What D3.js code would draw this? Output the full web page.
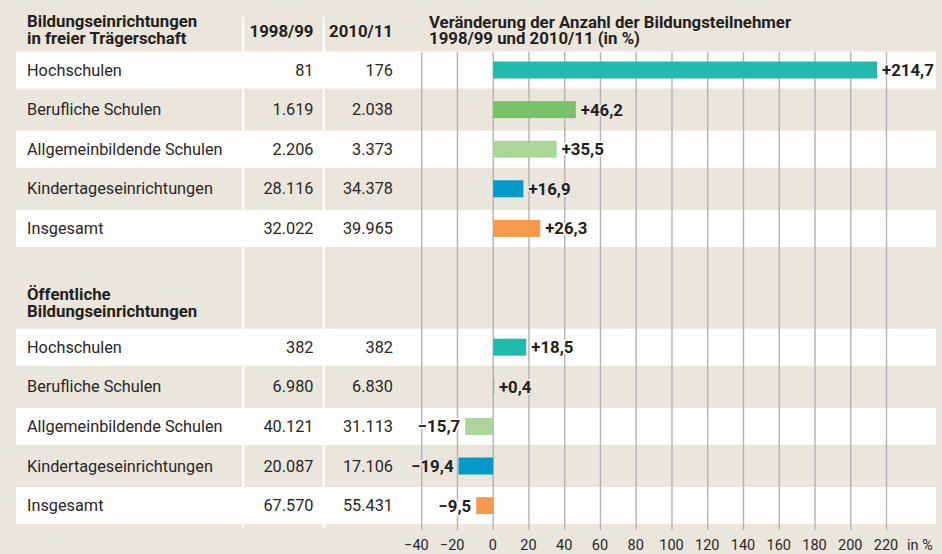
<!DOCTYPE html>
<html>
<head>
<meta charset="utf-8">
<script src="https://cdn.jsdelivr.net/npm/d3@7"></script>
<style>
  body { margin: 0; background: #ebe6dc; }
  svg { display: block; font-family: Roboto, "Noto Sans", sans-serif; }
</style>
</head>
<body>
<script>
// Daten
const categories = ["Hochschulen", "Berufliche Schulen", "Allgemeinbildende Schulen", "Kindertageseinrichtungen", "Insgesamt"];
const groupTitles = [["Bildungseinrichtungen", "in freier Trägerschaft"], ["Öffentliche", "Bildungseinrichtungen"]];
const columnTitles = ["1998/99", "2010/11"];
const chartTitle = ["Veränderung der Anzahl der Bildungsteilnehmer", "1998/99 und 2010/11 (in %)"];

const freiWerte1998 = [81, 1619, 2206, 28116, 32022];
const freiWerte2010 = [176, 2038, 3373, 34378, 39965];
const freiVeraenderung = [214.7, 46.2, 35.5, 16.9, 26.3];

const oeffWerte1998 = [382, 6980, 40121, 20087, 67570];
const oeffWerte2010 = [382, 6830, 31113, 17106, 55431];
const oeffVeraenderung = [18.5, 0.4, -15.7, -19.4, -9.5];

const barColors = ["#21bbad", "#79c267", "#aad89b", "#0399c9", "#f89a4b"];
const xTicks = [-40, -20, 0, 20, 40, 60, 80, 100, 120, 140, 160, 180, 200, 220];

const width = 942, height = 554;
const beige = "#ebe6dc", ink = "#231f20";

const de = d3.formatLocale({ decimal: ",", thousands: ".", grouping: [3], currency: ["", " €"], minus: "\u2212" });
const fmtInt = de.format(",d");
const fmtPct = de.format("+.1f");

// Zeilen: Gruppe 1 = 0..4, Gruppe 2 = 7..11
const rows = [];
categories.forEach((c, i) => rows.push({ name: c, i: i, idx: i, a: freiWerte1998[i], b: freiWerte2010[i], v: freiVeraenderung[i] }));
categories.forEach((c, i) => rows.push({ name: c, i: i, idx: i + 7, a: oeffWerte1998[i], b: oeffWerte2010[i], v: oeffVeraenderung[i] }));

const y = d3.scaleLinear().domain([0, 11]).range([70, 505.6]);
const x = d3.scaleLinear().domain([-40, 220]).range([421.7, 886.5]);

const svg = d3.select("body").append("svg").attr("width", width).attr("height", height);

svg.append("rect").attr("width", width).attr("height", height).attr("fill", beige);

// weiße Zeilen
svg.append("g").selectAll("rect")
  .data(rows.filter(d => d.i % 2 === 0))
  .enter().append("rect")
  .attr("x", 16).attr("width", 920)
  .attr("y", d => y(d.idx) - 18.5).attr("height", 37)
  .attr("fill", "#fff");

// Spaltentrenner
svg.append("g").selectAll("rect")
  .data([242.3, 322.6])
  .enter().append("rect")
  .attr("x", d => d).attr("width", 2)
  .attr("y", 17).attr("height", 511)
  .attr("fill", "#fff");

// Gitterlinien
svg.append("g").selectAll("line")
  .data(xTicks)
  .enter().append("line")
  .attr("x1", d => x(d)).attr("x2", d => x(d))
  .attr("y1", 52).attr("y2", 530)
  .attr("stroke", "#b3b3b3").attr("stroke-width", 1.4);

// Überschriften
const head = svg.append("g").attr("fill", ink).attr("font-weight", 700).attr("font-size", 16.8);
groupTitles[0].forEach((t, k) => head.append("text").attr("x", 27).attr("y", 27 + k * 16.5).text(t));
groupTitles[1].forEach((t, k) => head.append("text").attr("x", 27).attr("y", 300 + k * 17).text(t));
chartTitle.forEach((t, k) => head.append("text").attr("x", 429).attr("y", 27.5 + k * 16.5).text(t));
head.selectAll(".col")
  .data(columnTitles)
  .enter().append("text")
  .attr("x", (d, i) => [313.5, 393][i]).attr("y", 36.5)
  .attr("text-anchor", "end").text(d => d);

// Tabelle
const body = svg.append("g").attr("fill", "#2a2627").attr("font-size", 16.3);
body.selectAll(".name").data(rows).enter().append("text")
  .attr("x", 27).attr("y", d => y(d.idx) + 5.5).text(d => d.name);
body.selectAll(".a").data(rows).enter().append("text")
  .attr("x", 313.5).attr("y", d => y(d.idx) + 5.5).attr("text-anchor", "end").text(d => fmtInt(d.a));
body.selectAll(".b").data(rows).enter().append("text")
  .attr("x", 393).attr("y", d => y(d.idx) + 5.5).attr("text-anchor", "end").text(d => fmtInt(d.b));

// Balken
svg.append("g").selectAll("rect")
  .data(rows)
  .enter().append("rect")
  .attr("x", d => x(Math.min(0, d.v)))
  .attr("width", d => Math.max(1, Math.abs(x(d.v) - x(0))))
  .attr("y", d => y(d.idx) - 8.5).attr("height", 17)
  .attr("fill", d => barColors[d.i]);

// Werte
svg.append("g").selectAll("text")
  .data(rows)
  .enter().append("text")
  .attr("x", d => d.v >= 0 ? x(d.v) + 5 : x(d.v) - 5)
  .attr("y", d => y(d.idx) + 6)
  .attr("text-anchor", d => d.v >= 0 ? "start" : "end")
  .attr("font-size", 16.8).attr("font-weight", 700)
  .attr("fill", ink)
  .attr("stroke", d => d.i % 2 === 0 ? "#fff" : beige)
  .attr("stroke-width", 3).attr("paint-order", "stroke")
  .text(d => fmtPct(d.v));

// Achse
const axis = d3.axisBottom(x).tickValues(xTicks).tickSize(0).tickPadding(0)
  .tickFormat(d => de.format("d")(d));
const gAxis = svg.append("g").attr("transform", "translate(0,539)").call(axis);
gAxis.select(".domain").remove();
gAxis.selectAll("text")
  .attr("font-family", "Roboto, sans-serif").attr("font-size", 14.5).attr("fill", "#2a2627")
  .attr("dy", "0.78em")
  .attr("text-anchor", d => d < 0 ? "end" : "middle")
  .attr("dx", d => d < 0 ? 6.5 : -1);
svg.append("text").attr("x", 907).attr("y", 550.3)
  .attr("font-size", 14.5).attr("fill", "#2a2627").text("in %");
</script>
</body>
</html>
